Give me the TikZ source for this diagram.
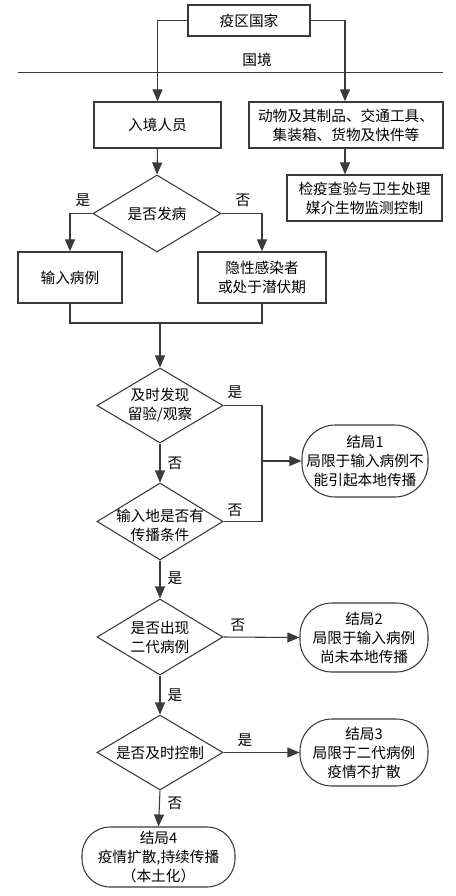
\documentclass[tikz,border=0pt]{standalone}
\usepackage{fontspec}
\setmainfont{Noto Sans CJK SC}
\usetikzlibrary{arrows.meta,shapes.geometric}
\definecolor{ln}{HTML}{3A3A3A}
\begin{document}
\begin{tikzpicture}[x=0.75pt,y=-0.75pt,
  font=\fontsize{11}{14.25}\selectfont,
  box/.style={draw=ln,line width=1pt,rectangle,inner sep=0pt,align=center},
  oval/.style={draw=ln,line width=0.8pt,rectangle,inner sep=0pt,align=center},
  dia/.style={draw=ln,line width=0.8pt,diamond,inner sep=0pt},
  txt/.style={inner sep=0pt,align=center},
  lab/.style={inner sep=0pt},
  conn/.style={draw=ln,line width=0.8pt},
  arr/.style={conn,-{Triangle[length=9pt,width=7.5pt]}}]
\useasboundingbox (0,0) rectangle (455,896);
\fill[white] (0,0) rectangle (455,896);
% boxes
\node[box,minimum width=91.5pt,minimum height=23.25pt] (top) at (249,20.5) {疫区国家};
\coordinate (bl) at (18,72.7);
\coordinate (br) at (443,72.7);
\draw[conn] (bl) -- (br);
\node[lab] (border) at (257,60) {国境};
\node[box,minimum width=95.25pt,minimum height=34.5pt] (enter) at (157.5,125) {入境人员};
\node[box,minimum width=145.5pt,minimum height=34.5pt] (goods) at (346,125) {动物及其制品、交通工具、\\集装箱、货物及快件等};
\node[box,minimum width=116.25pt,minimum height=34.5pt] (quar) at (364.5,198) {检疫查验与卫生处理\\媒介生物监测控制};
% diamond 1
\node[dia,minimum width=96pt,minimum height=57.75pt] (d1) at (157,213.5) {};
\node[txt] (d1t) at (d1) {是否发病};
\node[box,minimum width=78pt,minimum height=38.25pt] (b1) at (70,277.5) {输入病例};
\node[box,minimum width=96pt,minimum height=38.25pt] (b2) at (262,277.5) {隐性感染者\\或处于潜伏期};
% lower diamonds
\node[dia,minimum width=94.5pt,minimum height=56.25pt] (d2) at (160,405.5) {};
\node[txt] (d2t) at (160,405.5) {及时发现\\留验/观察};
\node[dia,minimum width=94.5pt,minimum height=57.75pt] (d3) at (160,521.5) {};
\node[txt] (d3t) at (160,525) {输入地是否有\\传播条件};
\node[dia,minimum width=94.5pt,minimum height=57pt] (d4) at (160,637) {};
\node[txt] (d4t) at (160,637) {是否出现\\二代病例};
\node[dia,minimum width=94.5pt,minimum height=56.25pt] (d5) at (160,752.5) {};
\node[txt] (d5t) at (160,752.5) {是否及时控制};
% outcomes
\node[oval,minimum width=94.5pt,minimum height=54pt,rounded corners=25pt] (o1) at (365,461) {结局1\\局限于输入病例不\\能引起本地传播};
\node[oval,minimum width=96pt,minimum height=51.75pt,rounded corners=24pt] (o2) at (364,637.5) {结局2\\局限于输入病例\\尚未本地传播};
\node[oval,minimum width=96pt,minimum height=50.25pt,rounded corners=24pt] (o3) at (364,752.5) {结局3\\局限于二代病例\\疫情不扩散};
\node[oval,minimum width=114.75pt,minimum height=45pt,rounded corners=21pt] (o4) at (158.5,857) {结局4\\疫情扩散,持续传播\\（本土化）};
% connectors
\draw[arr] (top.west) -| (enter.north);
\draw[arr] (top.east) -| (goods.north -| 345,0);
\draw[arr] (goods.south -| 345,0) -- (quar.north -| 345,0);
\draw[arr] (enter.south) -- (d1.north);
\draw[arr] (d1.west) -| (b1.north);
\draw[arr] (d1.east) -| (b2.north);
\coordinate (m1) at (70,323);
\coordinate (m) at (160,323);
\draw[conn] (b1.south) -- (m1) -| (b2.south);
\draw[arr] (m) -- (d2.north);
\coordinate (j1) at (262,405.5);
\coordinate (j2) at (262,521.5);
\coordinate (j) at (262,461);
\draw[conn] (d2.east) -- (j1) -- (j2) -- (d3.east);
\draw[arr] (j) -- (o1.west);
\draw[arr] (d2.south) -- (d3.north);
\draw[arr] (d3.south) -- (d4.north);
\draw[arr] (d4.east) -- (o2.west);
\draw[arr] (d4.south) -- (d5.north);
\draw[arr] (d5.east) -- (o3.west);
\draw[arr] (d5.south) -- (o4.north);
% labels
\node[lab] (l1) at (83,200) {是};
\node[lab] (l2) at (243,200) {否};
\node[lab] (l3) at (235,392) {是};
\node[lab] (l4) at (175,463) {否};
\node[lab] (l5) at (235,510) {否};
\node[lab] (l6) at (175,578) {是};
\node[lab] (l7) at (238,625) {否};
\node[lab] (l8) at (175,695) {是};
\node[lab] (l9) at (245,740) {是};
\node[lab] (l10) at (175,803) {否};
\end{tikzpicture}
\end{document}
